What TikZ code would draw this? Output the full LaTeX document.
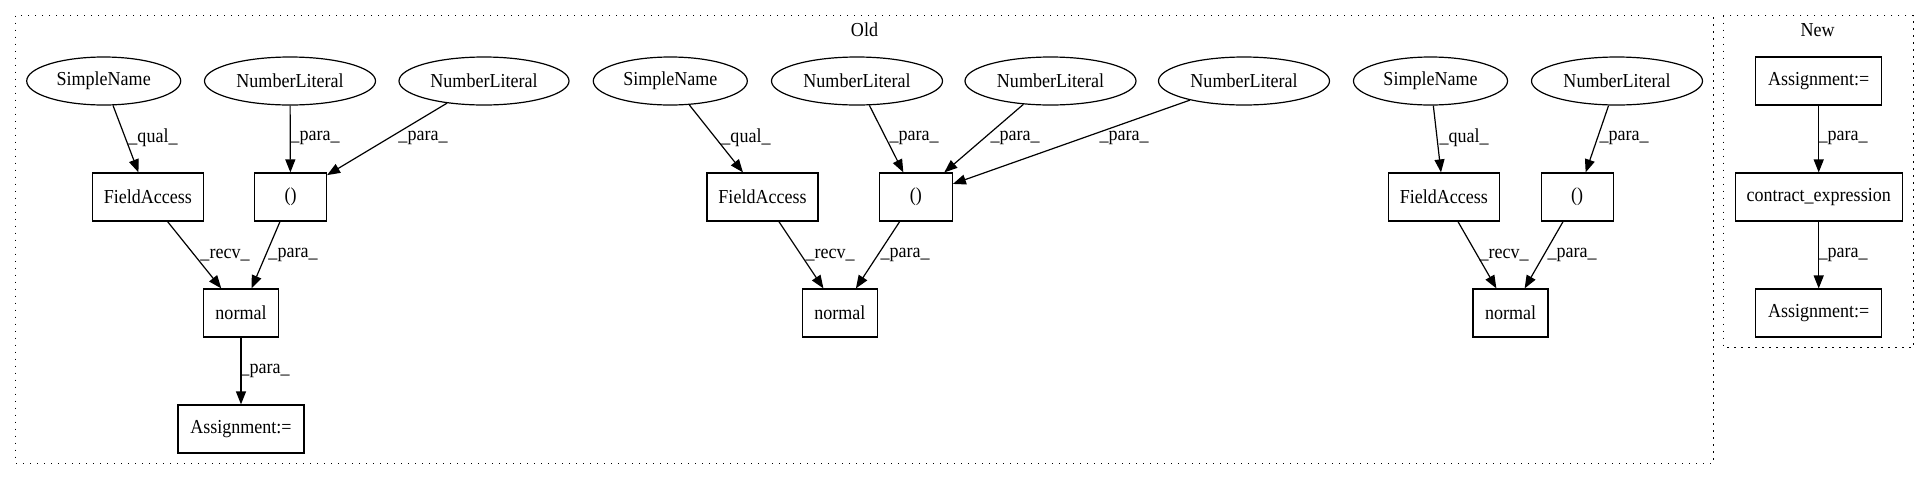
\documentclass[tikz,border=0pt]{standalone}
\usepackage{fontspec}
\setmainfont[FakeStretch=0.91]{Liberation Serif}
\usetikzlibrary{shapes.geometric,arrows.meta}
\begin{document}
\begin{tikzpicture}[x=1pt,y=-1pt,
  every node/.style={font=\fontsize{19.8}{22}\selectfont},
  ell/.style={draw,ellipse,line width=1.2pt,inner sep=0pt,minimum height=48pt},
  box/.style={draw,rectangle,line width=1.2pt,inner sep=0pt,minimum height=48pt},
  cluster/.style={draw,line width=1.3pt,dash pattern=on 1.3pt off 5.7pt},
  conn/.style={line width=1.2pt,-{Triangle[length=13pt,width=10pt]}},
  lab/.style={inner sep=0pt,anchor=center}]
\useasboundingbox (0,0) rectangle (1929,480);
% clusters
\draw[cluster] (15.7,15.7) rectangle (1713.3,463.3);
\draw[cluster] (1723.3,15.7) rectangle (1913.3,347.7);
\node[lab] (oldlab) at (864.5,30) {Old};
\node[lab] (newlab) at (1817.7,30) {New};
% old, group 1
\node[ell,minimum width=154pt] (sn1) at (103.7,81) {SimpleName};
\node[ell,minimum width=171pt] (nl1) at (290,81) {NumberLiteral};
\node[ell,minimum width=170pt] (nl2) at (484,81) {NumberLiteral};
\node[box,minimum width=111pt] (fa1) at (147.8,197) {FieldAccess};
\node[box,minimum width=72pt] (p1) at (290.5,197) {()};
\node[box,minimum width=75pt] (n1) at (241,313) {normal};
\node[box,minimum width=126pt] (a1) at (241,429) {Assignment:=};
% old, group 2
\node[ell,minimum width=154pt] (sn2) at (670.3,81) {SimpleName};
\node[ell,minimum width=171pt] (nl3) at (857,81) {NumberLiteral};
\node[ell,minimum width=171pt] (nl4) at (1050.5,81) {NumberLiteral};
\node[ell,minimum width=171pt] (nl5) at (1244,81) {NumberLiteral};
\node[box,minimum width=111pt] (fa2) at (762.5,197) {FieldAccess};
\node[box,minimum width=73pt] (p2) at (915.8,197) {()};
\node[box,minimum width=75pt] (n2) at (839.8,313) {normal};
% old, group 3
\node[ell,minimum width=154pt] (sn3) at (1430.5,81) {SimpleName};
\node[ell,minimum width=171pt] (nl6) at (1617,81) {NumberLiteral};
\node[box,minimum width=111pt] (fa3) at (1443.8,197) {FieldAccess};
\node[box,minimum width=72pt] (p3) at (1577.2,197) {()};
\node[box,minimum width=75pt] (n3) at (1510.5,313) {normal};
% new
\node[box,minimum width=126pt] (na1) at (1818.7,81) {Assignment:=};
\node[box,minimum width=167pt] (ce) at (1818.7,197) {contract\_expression};
\node[box,minimum width=126pt] (na2) at (1818.7,313) {Assignment:=};
% connectors group 1
\draw[conn] (sn1) -- (fa1) node[lab] at (153,138) {\_qual\_};
\draw[conn] (nl1) -- (p1) node[lab] at (315,138) {\_para\_};
\draw[conn] (nl2) -- (p1) node[lab] at (423,138) {\_para\_};
\draw[conn] (fa1) -- (n1) node[lab] at (225,255) {\_recv\_};
\draw[conn] (p1) -- (n1) node[lab] at (293,255) {\_para\_};
\draw[conn] (n1) -- (a1) node[lab] at (265,371) {\_para\_};
% connectors group 2
\draw[conn] (sn2) -- (fa2) node[lab] at (746,138) {\_qual\_};
\draw[conn] (nl3) -- (p2) node[lab] at (914,138) {\_para\_};
\draw[conn] (nl4) -- (p2) node[lab] at (1015,138) {\_para\_};
\draw[conn] (nl5) -- (p2) node[lab] at (1124,138) {\_para\_};
\draw[conn] (fa2) -- (n2) node[lab] at (830,255) {\_recv\_};
\draw[conn] (p2) -- (n2) node[lab] at (905,255) {\_para\_};
% connectors group 3
\draw[conn] (sn3) -- (fa3) node[lab] at (1464,138) {\_qual\_};
\draw[conn] (nl6) -- (p3) node[lab] at (1624,138) {\_para\_};
\draw[conn] (fa3) -- (n3) node[lab] at (1504,255) {\_recv\_};
\draw[conn] (p3) -- (n3) node[lab] at (1572,255) {\_para\_};
% connectors new
\draw[conn] (na1) -- (ce) node[lab] at (1843,138) {\_para\_};
\draw[conn] (ce) -- (na2) node[lab] at (1843,255) {\_para\_};
\end{tikzpicture}
\end{document}
